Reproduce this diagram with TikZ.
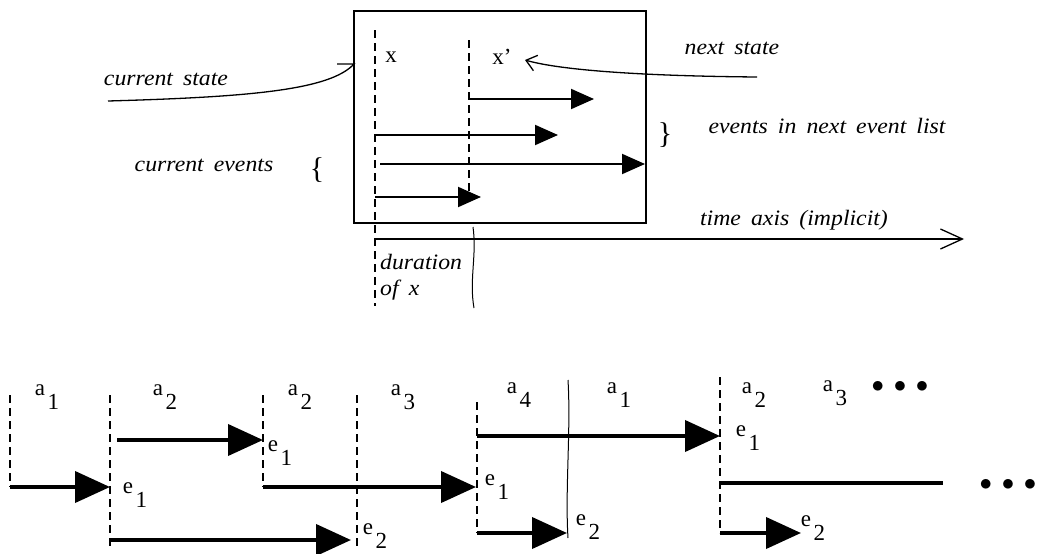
\documentclass[tikz,border=0pt]{standalone}
\usepackage{fontspec}
\setmainfont{Liberation Serif}
\newfontfamily\itf[FakeStretch=1.08,WordSpace=1.7]{Liberation Serif}
\usetikzlibrary{arrows.meta}
\newcommand\lab[2]{#1\rlap{\hspace{2.5pt}\smash{\raisebox{-14pt}{#2}}}}
\begin{document}
\begin{tikzpicture}[x=1pt,y=-1pt,
  dashln/.style={line width=1.6pt, dash pattern=on 8pt off 5pt},
  evt/.style={line width=2pt, -{Triangle[length=23pt,width=20pt]}},
  bigevt/.style={line width=4pt, -{Triangle[length=35pt,width=31pt]}},
  plainln/.style={line width=4pt},
  lbl/.style={font=\fontsize{23}{23}\selectfont, inner sep=0},
  itl/.style={font=\itf\itshape\fontsize{22}{22}\selectfont, inner sep=0},
  brc/.style={font=\fontsize{30}{30}\selectfont, inner sep=0},
  thin/.style={line width=1.3pt}]
\useasboundingbox (0,0) rectangle (1037,554);

% ---------- top part ----------
\node[draw, line width=1.8pt, minimum width=292pt, minimum height=212pt,
      anchor=north west, inner sep=0] (box) at (353,10) {};

\coordinate (xt) at (375,30);  \coordinate (xb) at (375,306);
\coordinate (xpt) at (469,40); \coordinate (xpb) at (469,200);
\draw[dashln] (xt) -- (xb);
\draw[dashln] (xpt) -- (xpb);
\node[lbl] (xl) at (391,57) {x};
\node[lbl] (xpl) at (502,57) {x'};

\coordinate (e1s) at (469,99);  \coordinate (e1t) at (594,99);
\coordinate (e2s) at (375,135); \coordinate (e2t) at (558,135);
\coordinate (e3s) at (380,164); \coordinate (e3t) at (645,164);
\coordinate (e4s) at (375,197); \coordinate (e4t) at (481,197);
\draw[evt] (e1s) -- (e1t);
\draw[evt] (e2s) -- (e2t);
\draw[evt] (e3s) -- (e3t);
\draw[evt] (e4s) -- (e4t);

\coordinate (ts) at (375,239); \coordinate (te) at (964,239);
\draw[thin, -{Straight Barb[length=22pt,width=20pt]}] (ts) -- (te);
\coordinate (wt) at (473,227); \coordinate (wb) at (474,308);
\draw[line width=1pt] (wt) .. controls (477,255) and (469,280) .. (wb);

\node[itl] (cs) at (166,79) {current state};
\coordinate (csa) at (108,101); \coordinate (csb) at (354,64);
\draw[thin] (csa) .. controls (250,97) and (330,90) .. (csb) -- ++(-17,0);

\node[itl] (ce) at (204,165) {current events};
\node[brc] (lb) at (317,170) {\{};

\node[itl] (ns) at (732,48) {next state};
\coordinate (nsa) at (757,77); \coordinate (nsb) at (525,60);
\draw[thin, -{Straight Barb[length=10pt,width=16pt]}] (nsa) .. controls (640,76) and (560,70) .. (nsb);

\node[itl] (enl) at (827,126) {events in next event list};
\node[brc] (rb) at (665,135) {\}};

\node[itl] (ta) at (794,220) {time axis (implicit)};
\node[itl, anchor=west] (dur) at (380,262) {duration};
\node[itl, anchor=west] (ofx) at (380,290) {of x};

% ---------- bottom part ----------
\coordinate (d1t) at (10,395);  \coordinate (d1b) at (10,487);
\coordinate (d2t) at (110,395); \coordinate (d2b) at (110,546);
\coordinate (d3t) at (263,395); \coordinate (d3b) at (263,487);
\coordinate (d4t) at (357,395); \coordinate (d4b) at (357,547);
\coordinate (d5t) at (477,402); \coordinate (d5b) at (477,533);
\coordinate (d7t) at (720,377); \coordinate (d7b) at (720,533);
\coordinate (w6t) at (568,380); \coordinate (w6b) at (568,538);
\draw[dashln] (d1t) -- (d1b);
\draw[dashln] (d2t) -- (d2b);
\draw[dashln] (d3t) -- (d3b);
\draw[dashln] (d4t) -- (d4b);
\draw[dashln] (d5t) -- (d5b);
\draw[dashln] (d7t) -- (d7b);
\draw[line width=1pt] (w6t) .. controls (571,430) and (565,490) .. (w6b);

\coordinate (a1s) at (10,487);  \coordinate (a1t) at (110,487);
\coordinate (a2s) at (117,440); \coordinate (a2t) at (263,440);
\coordinate (a3s) at (110,540); \coordinate (a3t) at (351,540);
\coordinate (a4s) at (263,487); \coordinate (a4t) at (476,487);
\coordinate (a5s) at (477,436); \coordinate (a5t) at (720,436);
\coordinate (a6s) at (477,533); \coordinate (a6t) at (567,533);
\coordinate (a7s) at (720,483); \coordinate (a7t) at (943,483);
\coordinate (a8s) at (720,533); \coordinate (a8t) at (801,533);
\draw[bigevt] (a1s) -- (a1t);
\draw[bigevt] (a2s) -- (a2t);
\draw[bigevt] (a3s) -- (a3t);
\draw[bigevt] (a4s) -- (a4t);
\draw[bigevt] (a5s) -- (a5t);
\draw[bigevt] (a6s) -- (a6t);
\draw[plainln] (a7s) -- (a7t);
\draw[bigevt] (a8s) -- (a8t);

\node[lbl] (la1) at (40,390) {\lab{a}{1}};
\node[lbl] (la2) at (158,390) {\lab{a}{2}};
\node[lbl] (la3) at (293,390) {\lab{a}{2}};
\node[lbl] (la4) at (396,390) {\lab{a}{3}};
\node[lbl] (la5) at (512,388) {\lab{a}{4}};
\node[lbl] (la6) at (612,388) {\lab{a}{1}};
\node[lbl] (la7) at (747,388) {\lab{a}{2}};
\node[lbl] (la8) at (828,386) {\lab{a}{3}};
\node[lbl] (dt1) at (900,387) {$\bullet\,\bullet\,\bullet$};
\node[lbl] (dt2) at (1008,485) {$\bullet\,\bullet\,\bullet$};

\node[lbl] (le1) at (128,488) {\lab{e}{1}};
\node[lbl] (le2) at (273,446) {\lab{e}{1}};
\node[lbl] (le3) at (368,529) {\lab{e}{2}};
\node[lbl] (le4) at (490,480) {\lab{e}{1}};
\node[lbl] (le5) at (581,520) {\lab{e}{2}};
\node[lbl] (le6) at (741,431) {\lab{e}{1}};
\node[lbl] (le7) at (806,521) {\lab{e}{2}};
\end{tikzpicture}
\end{document}
